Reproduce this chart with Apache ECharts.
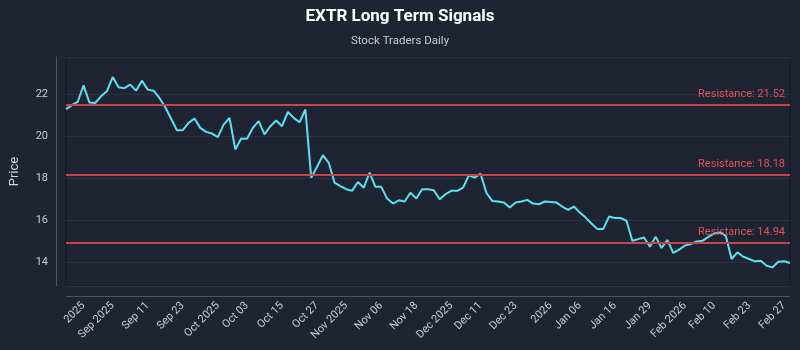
<!DOCTYPE html>
<html>
<head>
<meta charset="utf-8">
<script src="https://cdn.jsdelivr.net/npm/echarts@6/dist/echarts.min.js"></script>
<style>
  html, body { margin: 0; padding: 0; background: #1f2433; }
  #main { width: 800px; height: 350px; }
</style>
</head>
<body>
<div id="main"></div>
<script>
// EXTR closing prices, one per trading day
const prices = [
  21.31, 21.5, 21.65, 22.44, 21.63, 21.6, 21.92, 22.16, 22.84, 22.35,
  22.31, 22.48, 22.19, 22.67, 22.24, 22.19, 21.84, 21.4, 20.85, 20.3,
  20.3, 20.65, 20.86, 20.41, 20.22, 20.14, 19.97, 20.57, 20.89, 19.38,
  19.9, 19.89, 20.41, 20.73, 20.1, 20.49, 20.76, 20.49, 21.17, 20.89,
  20.68, 21.29, 18.03, 18.55, 19.11, 18.74, 17.79, 17.63, 17.48, 17.4,
  17.82, 17.55, 18.27, 17.59, 17.59, 17.03, 16.79, 16.95, 16.89, 17.31,
  17.03, 17.48, 17.48, 17.43, 17.0, 17.24, 17.4, 17.4, 17.55, 18.14,
  18.03, 18.22, 17.31, 16.92, 16.89, 16.84, 16.6, 16.84, 16.89, 16.97,
  16.79, 16.76, 16.89, 16.87, 16.84, 16.65, 16.49, 16.65, 16.36, 16.12,
  15.84, 15.57, 15.57, 16.17, 16.1, 16.1, 15.97, 15.01, 15.09, 15.17,
  14.73, 15.2, 14.67, 15.05, 14.43, 14.59, 14.78, 14.86, 14.98, 15.01,
  15.2, 15.36, 15.41, 15.25, 14.14, 14.46, 14.25, 14.14, 14.03, 14.06,
  13.82, 13.74, 14.01, 14.03, 13.95
];

const tickLabels = ['2025', 'Sep 2025', 'Sep 11', 'Sep 23', 'Oct 2025', 'Oct 03', 'Oct 15', 'Oct 27',
  'Nov 2025', 'Nov 06', 'Nov 18', 'Dec 2025', 'Dec 11', 'Dec 23', '2026', 'Jan 06', 'Jan 16',
  'Jan 29', 'Feb 2026', 'Feb 10', 'Feb 23', 'Feb 27'];
const tickIndex = [3, 8, 14, 20, 26, 31, 37, 43, 48, 54, 60, 66, 71, 77, 83, 88, 94, 100, 106, 111, 117, 123];

const resistance = [21.52, 18.18, 14.94];

const labelAt = {};
tickIndex.forEach(function (idx, j) { labelAt[idx] = tickLabels[j]; });
const categories = prices.map(function (_, i) { return String(i); });

var chartDom = document.getElementById('main');
var myChart = echarts.init(chartDom);
var option;

option = {
  backgroundColor: '#1f2433',
  textStyle: { fontFamily: 'Roboto, sans-serif' },
  title: {
    text: 'EXTR Long Term Signals',
    subtext: 'Stock Traders Daily',
    left: 'center',
    top: 3,
    itemGap: 10,
    textStyle: { color: '#ffffff', fontSize: 17, fontWeight: 'bold' },
    subtextStyle: { color: '#c6cad3', fontSize: 11.5 }
  },
  grid: {
    left: 60,
    right: 10,
    top: 57,
    bottom: 64,
    show: true,
    borderColor: '#141824',
    borderWidth: 1
  },
  xAxis: {
    type: 'category',
    data: categories,
    boundaryGap: false,
    offset: 10,
    axisLine: { lineStyle: { color: '#4d5465' } },
    axisTick: { show: false },
    splitLine: { show: false },
    axisLabel: {
      rotate: 45,
      color: '#c8ccd6',
      fontSize: 11,
      interval: function (i) { return labelAt[i] !== undefined; },
      formatter: function (v, i) { return labelAt[i] || ''; }
    }
  },
  yAxis: {
    type: 'value',
    name: 'Price',
    nameLocation: 'middle',
    nameGap: 35,
    nameTextStyle: { color: '#d0d4dc', fontSize: 13 },
    min: 12.85,
    max: 23.8,
    offset: 10,
    axisLine: { show: true, lineStyle: { color: '#4d5465' } },
    axisTick: { show: false },
    axisLabel: { color: '#c8ccd6', fontSize: 11, showMinLabel: false, showMaxLabel: false },
    splitLine: { lineStyle: { color: '#2b3142' } }
  },
  series: [
    {
      name: 'EXTR',
      type: 'line',
      data: prices,
      showSymbol: false,
      lineStyle: { color: '#5ee0ee', width: 2 },
      itemStyle: { color: '#5ee0ee' },
      markLine: {
        silent: true,
        symbol: 'none',
        lineStyle: { color: '#c4454e', width: 2, type: 'solid' },
        label: {
          position: 'insideEndTop',
          color: '#e0525c',
          fontSize: 11,
          formatter: function (p) { return 'Resistance: ' + p.value.toFixed(2); }
        },
        data: resistance.map(function (r) { return { yAxis: r }; })
      }
    }
  ]
};

option && myChart.setOption(option);
</script>
</body>
</html>
